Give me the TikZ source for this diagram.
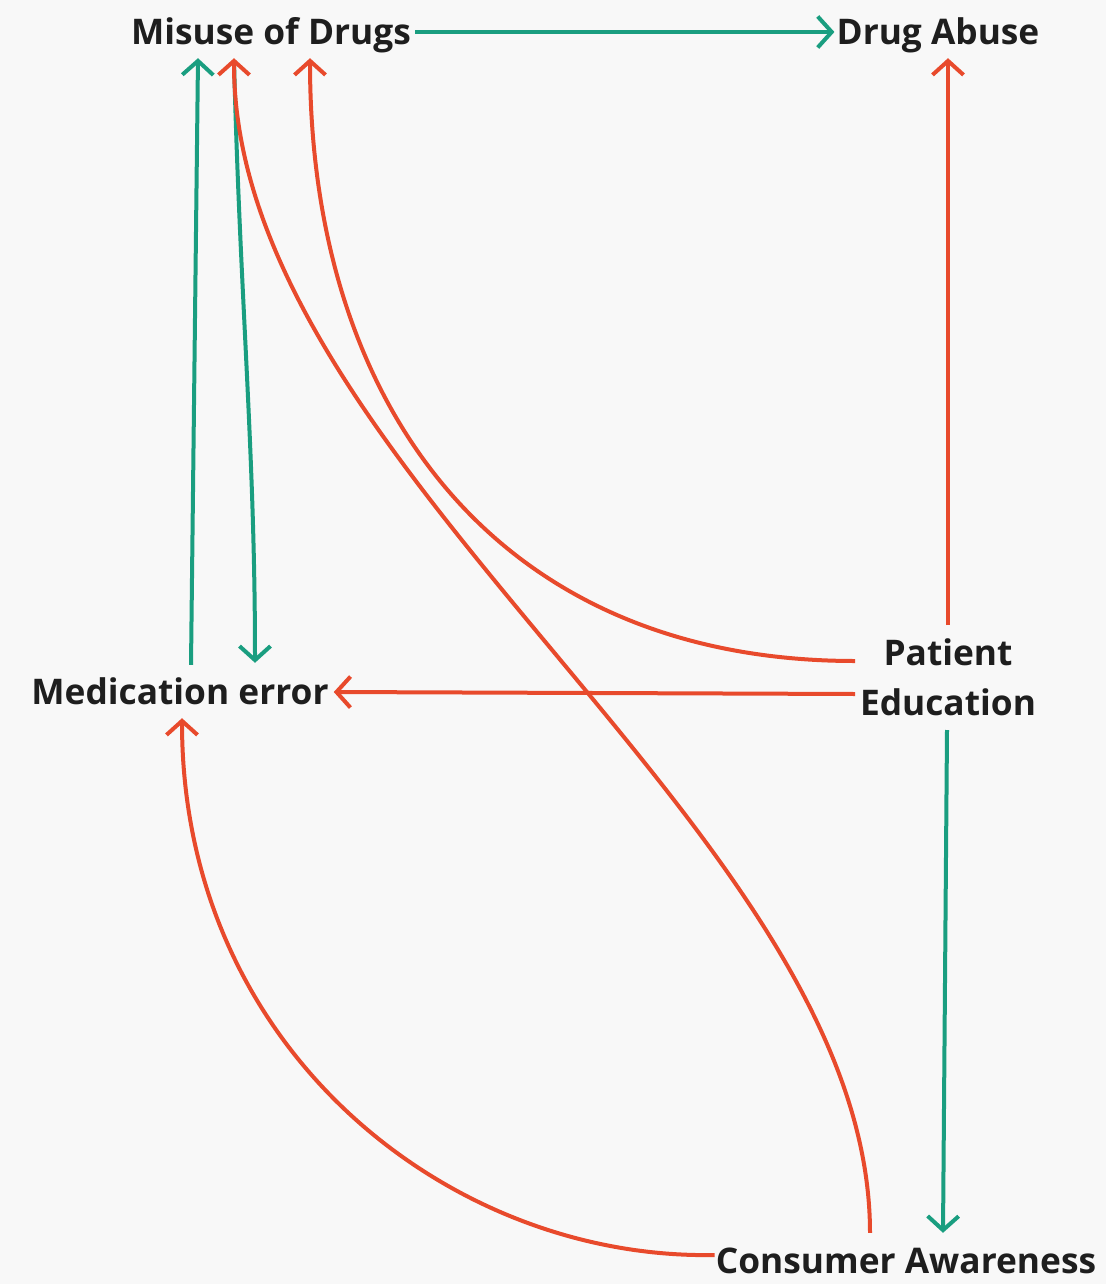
\documentclass[tikz,border=0pt]{standalone}
\usepackage{fontspec}
\setmainfont{Open Sans}
\usetikzlibrary{arrows.meta}
\definecolor{bg}{HTML}{F8F8F8}
\definecolor{gr}{HTML}{1A9E80}
\definecolor{rd}{HTML}{E84A2C}
\definecolor{tx}{HTML}{1E1E1E}
\begin{document}
\begin{tikzpicture}[x=1pt,y=-1pt,
  lbl/.style={inner sep=0pt, text height=27pt, text depth=9pt, anchor=base,
    font=\fontsize{35.3}{50}\selectfont\bfseries, text=tx},
  conn/.style={line width=4pt, -{Straight Barb[length=14pt,width=31pt]}},
  gconn/.style={conn, draw=gr},
  rconn/.style={conn, draw=rd}]
\fill[bg] (0,0) rectangle (1106,1284);
\useasboundingbox (0,0) rectangle (1106,1284);
\node[lbl] (m) at (271,45) {Misuse of Drugs};
\node[lbl] (d) at (938,45) {Drug Abuse};
\node[lbl] (e) at (180,704) {Medication error};
\node[inner sep=0pt, align=center, font=\fontsize{35.3}{50}\selectfont\bfseries, text=tx] (p) at (948,677) {Patient\\Education};
\node[lbl] (c) at (906,1273) {Consumer Awareness};
% green
\draw[gconn] ([xshift=4pt,yshift=4pt]m.east) -- ([xshift=-2pt,yshift=4pt]d.west);
\draw[gconn] ([xshift=11pt,yshift=12pt]e.north) -- ([xshift=-73pt,yshift=-4pt]m.south);
\draw[gconn] ([xshift=-37pt,yshift=-6pt]m.south) .. controls (240,300) and (255,450) .. ([xshift=75pt,yshift=14pt]e.north);
\draw[gconn] ([xshift=-1pt,yshift=-53pt]p.center) -- ([xshift=37pt,yshift=13pt]c.north);
% red
\draw[rconn] ([xshift=-36pt,yshift=13pt]c.north) .. controls (870,830) and (233,470) .. ([xshift=-37pt,yshift=-4pt]m.south);
\draw[rconn] ([xshift=-93pt,yshift=16pt]p.center) .. controls (500,661) and (310,410) .. ([xshift=39pt,yshift=-4pt]m.south);
\draw[rconn] ([xshift=-93pt,yshift=-17pt]p.center) -- ([xshift=5pt,yshift=3pt]e.east);
\draw[rconn] ([yshift=52pt]p.center) -- ([xshift=10pt,yshift=-4pt]d.south);
\draw[rconn] ([xshift=-1pt,yshift=9pt]c.west) .. controls (450,1260) and (182,1050) .. ([xshift=2pt,yshift=-5pt]e.south);
\end{tikzpicture}
\end{document}
